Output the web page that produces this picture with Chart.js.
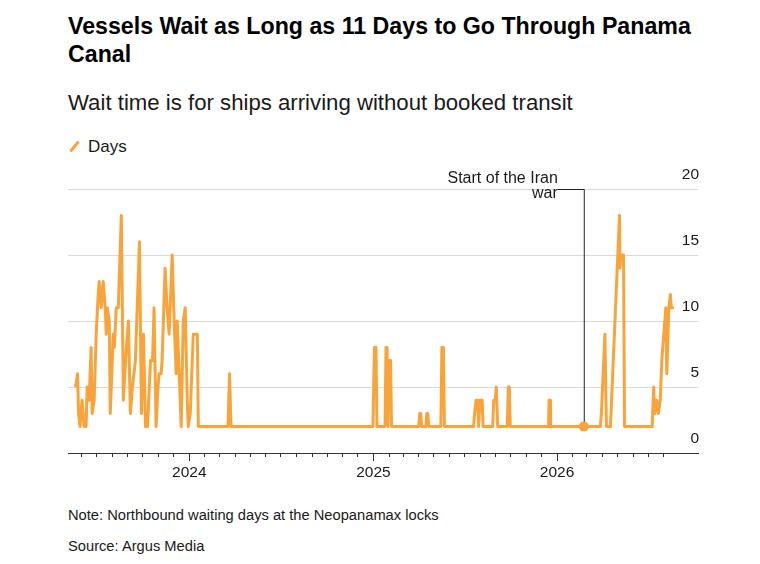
<!DOCTYPE html>
<html>
<head>
<meta charset="utf-8">
<script src="https://cdn.jsdelivr.net/npm/chart.js@4.4.1/dist/chart.umd.min.js"></script>
<style>
  body { margin: 0; background: #fff; font-family: "Liberation Sans", Arial, sans-serif; color: #1a1a1a; }
  #page { position: relative; width: 760px; height: 564px; overflow: hidden; }
  #title { position: absolute; left: 68px; top: 12px; width: 640px; font-size: 23.2px; line-height: 28px; font-weight: bold; color: #000; margin: 0; }
  #subtitle { position: absolute; left: 68px; top: 90px; font-size: 22.2px; color: #1a1a1a; margin: 0; }
  #legend { position: absolute; left: 68px; top: 137px; font-size: 17px; color: #1a1a1a; }
  #legend .swatch { display: inline-block; width: 3px; height: 13px; background: #f9a43b; transform: rotate(40deg); margin: 0 12px 0 5px; vertical-align: -1px; border-radius: 1px; }
  #wrap { position: absolute; left: 0; top: 160px; width: 760px; height: 330px; }
  #note { position: absolute; left: 68px; top: 507px; font-size: 14.7px; color: #1a1a1a; }
  #source { position: absolute; left: 68px; top: 538px; font-size: 14.7px; color: #1a1a1a; }
</style>
</head>
<body>
<div id="page">
  <h1 id="title">Vessels Wait as Long as 11 Days to Go Through Panama Canal</h1>
  <p id="subtitle">Wait time is for ships arriving without booked transit</p>
  <div id="legend"><span class="swatch"></span>Days</div>
  <div id="wrap"><canvas id="myChart"></canvas></div>
  <div id="note">Note: Northbound waiting days at the Neopanamax locks</div>
  <div id="source">Source: Argus Media</div>
</div>
<script>
// Data
var dates = [
  "2023-05-20", "2023-05-24", "2023-05-26", "2023-05-29", "2023-06-02", "2023-06-06", "2023-06-10", "2023-06-12",
  "2023-06-16", "2023-06-20", "2023-06-22", "2023-06-26", "2023-06-30", "2023-07-04", "2023-07-06", "2023-07-10",
  "2023-07-14", "2023-07-18", "2023-07-20", "2023-07-22", "2023-07-26", "2023-07-28", "2023-08-03", "2023-08-05",
  "2023-08-09", "2023-08-13", "2023-08-19", "2023-08-23", "2023-08-29", "2023-09-02", "2023-09-06", "2023-09-10",
  "2023-09-16", "2023-09-24", "2023-09-28", "2023-10-02", "2023-10-06", "2023-10-10", "2023-10-16", "2023-10-20",
  "2023-10-23", "2023-10-27", "2023-10-31", "2023-11-02", "2023-11-06", "2023-11-08", "2023-11-14", "2023-11-18",
  "2023-11-22", "2023-11-28", "2023-12-02", "2023-12-06", "2023-12-08", "2023-12-12", "2023-12-16", "2023-12-20",
  "2023-12-24", "2023-12-28", "2023-12-30", "2024-01-03", "2024-01-09", "2024-01-17", "2024-01-19",
  "2024-03-18", "2024-03-21", "2024-03-24",
  "2024-12-31", "2025-01-03", "2025-01-06", "2025-01-08",
  "2025-01-24", "2025-01-26", "2025-01-28", "2025-01-30", "2025-02-01", "2025-02-04", "2025-02-06",
  "2025-04-01", "2025-04-03", "2025-04-05", "2025-04-07",
  "2025-04-15", "2025-04-17", "2025-04-19", "2025-04-21",
  "2025-05-15", "2025-05-17", "2025-05-20", "2025-05-22",
  "2025-07-19", "2025-07-21", "2025-07-24", "2025-07-27", "2025-07-29", "2025-08-01", "2025-08-05", "2025-08-07",
  "2025-08-26", "2025-08-28", "2025-08-31", "2025-09-02", "2025-09-05",
  "2025-09-24", "2025-09-26", "2025-09-28", "2025-09-30",
  "2025-12-15", "2025-12-16", "2025-12-18", "2025-12-19",
  "2026-02-23",
  "2026-03-28", "2026-03-30", "2026-04-06", "2026-04-09", "2026-04-17", "2026-05-05", "2026-05-06", "2026-05-08",
  "2026-05-13", "2026-05-15",
  "2026-07-09", "2026-07-12", "2026-07-14", "2026-07-18", "2026-07-21", "2026-07-25", "2026-07-28", "2026-07-30",
  "2026-08-05", "2026-08-07", "2026-08-11", "2026-08-14", "2026-08-16", "2026-08-21"
];
var days = [
  5, 6, 3, 2, 4, 2, 2, 5,
  4, 8, 3, 4, 9, 12, 13, 11,
  13, 11, 9, 11, 10, 3, 9, 8,
  11, 11, 18, 4, 8, 10, 3, 5,
  7, 16, 3, 9, 2, 2, 7, 7,
  11, 2, 5, 6, 6, 7, 14, 11,
  9, 15, 10, 6, 10, 6, 2, 10,
  11, 4, 2, 3, 9, 9, 2,
  2, 6, 2,
  2, 8, 8, 2,
  2, 8, 8, 2, 7, 7, 2,
  2, 3, 3, 2,
  2, 3, 3, 2,
  2, 8, 8, 2,
  2, 3, 4, 4, 2, 4, 4, 2,
  2, 4, 4, 5, 2,
  2, 5, 5, 2,
  2, 4, 4, 2,
  2,
  2, 3, 9, 2, 2, 18, 14, 15,
  15, 2,
  2, 5, 3, 4, 3, 4, 7, 8,
  11, 6, 11, 12, 11, 11
];
var yTicks = [0, 5, 10, 15, 20];
var axisStart = "2023-05-05";
var axisEnd = "2026-10-08";
var firstTick = "2023-06-01";
var lastTick = "2026-08-01";
var eventDate = "2026-02-23";
var eventLabel = ["Start of the Iran", "war"];

function ts(s) {
    var p = s.split("-");
    return Date.UTC(+p[0], +p[1] - 1, +p[2]);
}

var points = dates.map(function (d, i) { return { x: ts(d), y: days[i] }; });
var eventIndex = dates.indexOf(eventDate);

// Year ticks are longer, the event line with its label sits over the plot
var extras = {
    id: "extras",
    beforeDatasetsDraw: function (chart) {
        var ctx = chart.ctx, x = chart.scales.x, y = chart.scales.y;
        var px = x.getPixelForValue(ts(eventDate));
        var py = y.getPixelForValue(days[eventIndex]);
        var top = y.getPixelForValue(20);
        ctx.save();
        ctx.strokeStyle = "#222";
        ctx.lineWidth = 1;
        ctx.beginPath();
        ctx.moveTo(px + 0.5, py);
        ctx.lineTo(px + 0.5, top + 0.5);
        ctx.lineTo(px - 26, top + 0.5);
        ctx.stroke();
        ctx.fillStyle = "#1a1a1a";
        ctx.font = "16px 'Liberation Sans', Arial, sans-serif";
        ctx.textAlign = "right";
        ctx.textBaseline = "alphabetic";
        ctx.fillText(eventLabel[0], px - 26, top - 6);
        ctx.fillText(eventLabel[1], px - 26, top + 9);
        ctx.restore();
    },
    afterDraw: function (chart) {
        var ctx = chart.ctx, x = chart.scales.x;
        ctx.save();
        ctx.strokeStyle = "#333";
        ctx.lineWidth = 1;
        x.ticks.forEach(function (t) {
            if (new Date(t.value).getUTCMonth() !== 0) return;
            var px = Math.round(x.getPixelForValue(t.value)) + 0.5;
            ctx.beginPath();
            ctx.moveTo(px, x.top);
            ctx.lineTo(px, x.top + 8);
            ctx.stroke();
        });
        ctx.restore();
    }
};

var ctx = document.getElementById("myChart").getContext("2d");
var waitChart = new Chart(ctx, {
    type: "line",
    data: {
        datasets: [{
            label: "Start",
            data: [points[eventIndex]],
            showLine: false,
            pointRadius: 5,
            pointBackgroundColor: "#f9a43b",
            pointBorderWidth: 0,
            order: 0
        }, {
            label: "Days",
            data: points,
            borderColor: "#f9a43b",
            borderWidth: 3,
            pointRadius: 0,
            tension: 0,
            borderJoinStyle: "round",
            order: 1
        }]
    },
    options: {
        responsive: true,
        maintainAspectRatio: false,
        animation: false,
        events: [],
        layout: { padding: { left: 68, right: 62, top: 29, bottom: 7 } },
        plugins: { legend: { display: false }, tooltip: { enabled: false } },
        scales: {
            x: {
                type: "linear",
                min: ts(axisStart),
                max: ts(axisEnd),
                afterBuildTicks: function (scale) {
                    var list = [];
                    var d = new Date(ts(firstTick));
                    while (d.getTime() <= ts(lastTick)) {
                        list.push({ value: d.getTime() });
                        d = new Date(Date.UTC(d.getUTCFullYear(), d.getUTCMonth() + 1, 1));
                    }
                    scale.ticks = list;
                },
                afterFit: function (scale) { scale.height = 30; },
                grid: { drawOnChartArea: false, drawTicks: true, tickLength: 4, tickColor: "#333" },
                border: { display: true, color: "#333", width: 1 },
                ticks: {
                    autoSkip: false,
                    maxRotation: 0,
                    padding: 6,
                    color: "#1a1a1a",
                    font: { family: "'Liberation Sans', Arial, sans-serif", size: 15.5 },
                    callback: function (value) {
                        var d = new Date(value);
                        return d.getUTCMonth() === 0 ? String(d.getUTCFullYear()) : "";
                    }
                }
            },
            y: {
                position: "right",
                min: 0,
                max: 20,
                afterBuildTicks: function (scale) {
                    scale.ticks = yTicks.map(function (v) { return { value: v }; });
                },
                afterFit: function (scale) { scale.width = 0; },
                grid: { color: "#d9d9d9", lineWidth: 1, drawTicks: false },
                border: { display: false },
                ticks: {
                    mirror: true,
                    padding: 1,
                    labelOffset: -14,
                    color: "#1a1a1a",
                    font: { family: "'Liberation Sans', Arial, sans-serif", size: 15.5 }
                }
            }
        }
    },
    plugins: [extras]
});
</script>
</body>
</html>
